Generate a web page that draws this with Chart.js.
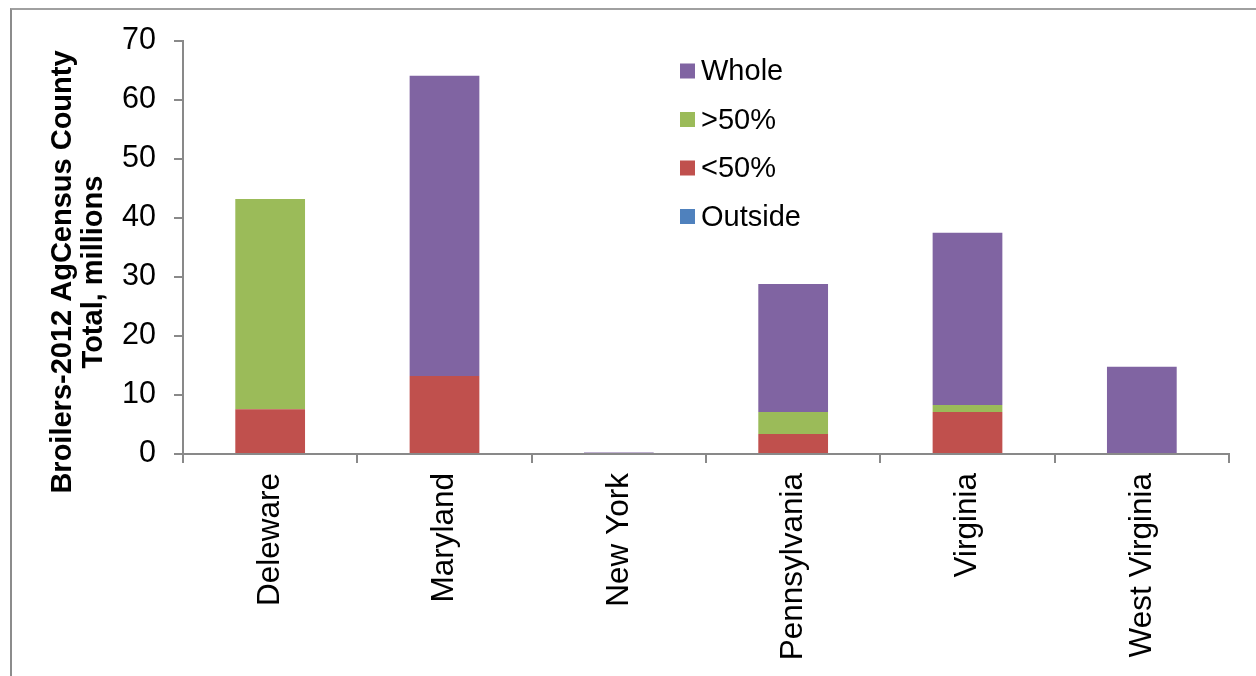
<!DOCTYPE html>
<html lang="en">
<head>
  <meta charset="UTF-8">
  <title>Broilers 2012 AgCensus</title>
  <script src="https://cdn.jsdelivr.net/npm/chart.js"></script>
  <style>
    html, body { margin: 0; padding: 0; background: #fff; overflow: hidden; }
    #wrap { position: relative; width: 1256px; height: 676px; }
    #frame { position: absolute; left: 10px; top: 8px; width: 1400px; height: 800px;
             border-left: 2px solid #8c8c8c; border-top: 2px solid #a0a0a0; }
    #chart { position: absolute; left: 0; top: 0; }
  </style>
</head>
<body>
  <div id="wrap">
    <div id="frame"></div>
    <canvas id="chart" width="1256" height="676"></canvas>
  </div>
  <script>
    // values, millions of broilers
    const states = ['Deleware', 'Maryland', 'New York', 'Pennsylvania', 'Virginia', 'West Virginia'];
    const outside = [0, 0, 0, 0, 0, 0];
    const under50 = [7.6, 13.2, 0, 3.4, 7.1, 0];
    const over50 = [35.6, 0, 0, 3.7, 1.2, 0];
    const whole = [0, 50.9, 0.25, 21.7, 29.2, 14.8];
    const yTitle = ['Broilers-2012 AgCensus County', 'Total, millions'];

    const font = '"Liberation Sans", Arial, sans-serif';
    const axisGray = '#898989';

    // legend drawn inside the plot, Excel style (reverse order)
    const boxLegend = {
      id: 'boxLegend',
      afterDraw(chart) {
        const ctx = chart.ctx;
        const sets = chart.data.datasets.slice().reverse();
        ctx.save();
        ctx.font = '29px ' + font;
        ctx.textBaseline = 'middle';
        ctx.textAlign = 'left';
        sets.forEach((ds, i) => {
          const cy = 71 + i * 48.5;
          ctx.fillStyle = ds.backgroundColor;
          ctx.fillRect(680, cy - 7.5, 15, 15);
          ctx.fillStyle = '#000';
          ctx.fillText(ds.label, 701, cy + 1);
        });
        ctx.restore();
      }
    };

    // two-line bold y axis title
    const sideTitle = {
      id: 'sideTitle',
      afterDraw(chart) {
        const ctx = chart.ctx;
        ctx.save();
        ctx.translate(78, 272);
        ctx.rotate(-Math.PI / 2);
        ctx.font = 'bold 29px ' + font;
        ctx.fillStyle = '#000';
        ctx.textAlign = 'center';
        ctx.textBaseline = 'middle';
        ctx.fillText(yTitle[0], 0, -15);
        ctx.fillText(yTitle[1], 0, 16);
        ctx.restore();
      }
    };

    const ctx = document.getElementById('chart').getContext('2d');
    new Chart(ctx, {
      type: 'bar',
      data: {
        labels: states,
        datasets: [
          { label: 'Outside', data: outside, backgroundColor: '#4F81BD' },
          { label: '<50%', data: under50, backgroundColor: '#C0504D' },
          { label: '>50%', data: over50, backgroundColor: '#9BBB59' },
          { label: 'Whole', data: whole, backgroundColor: '#8064A2' }
        ]
      },
      options: {
        responsive: false,
        devicePixelRatio: 1,
        animation: false,
        categoryPercentage: 1,
        barPercentage: 0.4,
        layout: { padding: { top: 41, right: 27, left: 0, bottom: 0 } },
        plugins: {
          legend: { display: false },
          tooltip: { enabled: false }
        },
        scales: {
          x: {
            stacked: true,
            afterFit(scale) { scale.height = 222; },
            border: { display: true, color: axisGray, width: 2 },
            grid: { drawOnChartArea: false, drawTicks: true, tickLength: 9, color: axisGray, lineWidth: 2 },
            ticks: {
              autoSkip: false,
              minRotation: 90,
              maxRotation: 90,
              padding: 10,
              color: '#000',
              font: { family: font, size: 31.5 }
            }
          },
          y: {
            stacked: true,
            min: 0,
            max: 70,
            afterFit(scale) { scale.width = 183; },
            border: { display: true, color: axisGray, width: 2 },
            grid: { drawOnChartArea: false, drawTicks: true, tickLength: 9, color: axisGray, lineWidth: 2 },
            ticks: {
              stepSize: 10,
              padding: 18,
              color: '#000',
              font: { family: font, size: 30.5 }
            }
          }
        }
      },
      plugins: [boxLegend, sideTitle]
    });
  </script>
</body>
</html>
